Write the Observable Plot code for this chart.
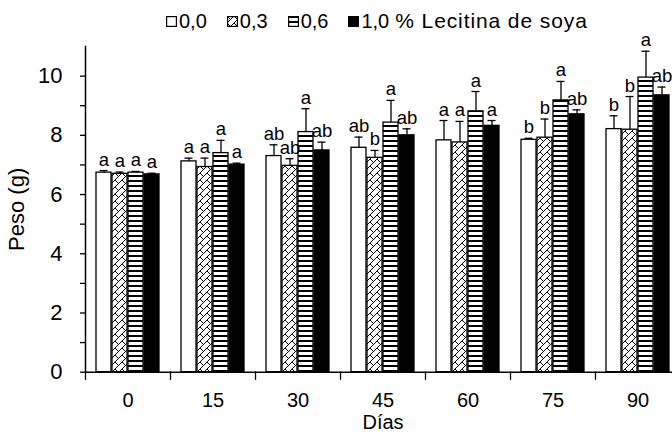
<!DOCTYPE html>
<html><head><meta charset="utf-8">
<script src="https://cdn.jsdelivr.net/npm/d3@7"></script>
<script src="https://cdn.jsdelivr.net/npm/@observablehq/plot@0.6"></script>
<style>
html,body{margin:0;padding:0;background:#fff;overflow:hidden;width:672px;height:432px;}
body{font-family:Arial,"Liberation Sans",sans-serif;color:#000;}
#legend{position:relative;height:40px;width:672px;}
#leg{position:absolute;left:166px;top:9px;display:flex;justify-content:flex-start;align-items:center;font-size:20px;line-height:24px;white-space:nowrap;}
.item{display:flex;align-items:center;margin-right:20px}
.sw{width:11px;height:11px;margin-right:2px;display:block}
#chart svg{max-width:none !important;}
</style></head><body>
<svg width="0" height="0" style="position:absolute">
<defs>
<pattern id="hatch" patternUnits="userSpaceOnUse" width="7" height="7">
<rect width="7" height="7" fill="white"/>
<path d="M0,7 L7,0 M-1,1 L1,-1 M6,8 L8,6" stroke="black" stroke-width="1"/>
<path d="M0,0 L3.5,3.5" stroke="black" stroke-width="1"/>
</pattern>
<pattern id="stripes" patternUnits="userSpaceOnUse" width="6" height="5">
<rect width="6" height="5" fill="white"/>
<rect width="6" height="2" fill="black"/>
</pattern>
</defs></svg>
<div id="legend"><div id="leg"></div></div>
<div id="chart"></div>
<script>
// Categories
const days = ["0", "15", "30", "45", "60", "75", "90"];
const treatments = ["0,0", "0,3", "0,6", "1,0"];
const legendSuffix = "% Lecitina de soya";
const yTicksMajor = [0, 2, 4, 6, 8, 10];
const yTicksMinor = [1, 3, 5, 7, 9];

// Mean weight (g) per treatment, by day
const peso00 = [6.74, 7.12, 7.30, 7.58, 7.83, 7.85, 8.21];
const peso03 = [6.70, 6.93, 6.97, 7.24, 7.76, 7.92, 8.19];
const peso06 = [6.74, 7.40, 8.11, 8.43, 8.81, 9.18, 9.95];
const peso10 = [6.68, 7.01, 7.49, 8.00, 8.32, 8.71, 9.35];

// Error (upper whisker length)
const err00 = [0.07, 0.11, 0.38, 0.36, 0.67, 0.05, 0.45];
const err03 = [0.06, 0.30, 0.24, 0.25, 0.71, 0.63, 1.12];
const err06 = [0.04, 0.43, 0.79, 0.75, 0.67, 0.64, 0.89];
const err10 = [0.04, 0.05, 0.28, 0.22, 0.18, 0.15, 0.28];

// Significance letters
const let00 = ["a", "a", "ab", "ab", "a", "b", "b"];
const let03 = ["a", "a", "ab", "b", "a", "b", "b"];
const let06 = ["a", "a", "a", "a", "a", "a", "a"];
const let10 = ["a", "a", "ab", "ab", "a", "ab", "ab"];

const fills = ["white", "url(#hatch)", "url(#stripes)", "black"];

const series = [
  {v: peso00, e: err00, l: let00},
  {v: peso03, e: err03, l: let03},
  {v: peso06, e: err06, l: let06},
  {v: peso10, e: err10, l: let10}
];
const rows = [];
days.forEach((d, i) => {
  treatments.forEach((t, j) => {
    const s = series[j];
    rows.push({day: d, t, v: s.v[i], top: s.v[i] + s.e[i], letter: s.l[i]});
  });
});

// Legend
const leg = document.getElementById("leg");
treatments.forEach((t, j) => {
  const it = document.createElement("div");
  it.className = "item";
  if (j === treatments.length - 1) it.style.marginRight = "0";
  it.innerHTML = `<svg class="sw" viewBox="0 0 11 11"><rect x="0.6" y="0.6" width="9.8" height="9.8" fill="${fills[j]}" stroke="black" stroke-width="1.2"/></svg><span>${t}</span>`;
  leg.appendChild(it);
});
const suf = document.createElement("span");
suf.style.marginLeft = "6px";
suf.style.fontSize = "21px";
suf.style.letterSpacing = "0.9px";
suf.textContent = legendSuffix;
leg.appendChild(suf);

const W = 682, H = 392, mL = 82, mR = 0, mT = 6, mB = 60.3;
const font = "Arial, 'Liberation Sans', sans-serif";

const chart = Plot.plot({
  width: W, height: H,
  marginLeft: mL, marginRight: mR, marginTop: mT, marginBottom: mB,
  style: {fontFamily: font, fontSize: "20px", maxWidth: "none", overflow: "visible", background: "white", color: "black"},
  fx: {domain: days, padding: 0},
  x: {domain: treatments, paddingInner: 0.08, paddingOuter: 0.67, axis: null},
  y: {domain: [0, 11]},
  color: {domain: treatments, range: fills},
  marks: [
    Plot.barY(rows, {fx: "day", x: "t", y: "v", fill: "t", stroke: "black", strokeWidth: 1.3}),
    Plot.ruleX(rows, {fx: "day", x: "t", y1: "v", y2: "top", stroke: "black", strokeWidth: 1.3}),
    Plot.tickY(rows, {fx: "day", x: "t", y: "top", stroke: "black", strokeWidth: 1.3, insetLeft: 3.5, insetRight: 3.5}),
    Plot.text(rows, {fx: "day", x: "t", y: "top", text: "letter", lineAnchor: "bottom", dy: -5, fontSize: 18.5, fill: "black"}),
    Plot.ruleY([0], {stroke: "black", strokeWidth: 1.5}),
    Plot.frame({anchor: "left", insetTop: H - mT - mB, insetBottom: -7, stroke: "black", strokeWidth: 1.3}),
    Plot.frame({anchor: "left", facet: "super", stroke: "black", strokeWidth: 1.5}),
    Plot.axisY({ticks: yTicksMajor, tickSize: 5, tickPadding: 18, strokeWidth: 1.3,
      label: "Peso (g)", labelAnchor: "center", labelOffset: 77, labelArrow: "none", fontSize: 22}),
    Plot.axisY({ticks: yTicksMinor, tickSize: 5, tickFormat: () => "", strokeWidth: 1.3, label: null}),
    Plot.axisFx({anchor: "bottom", tickSize: 0, tickPadding: 21, fontSize: 20, label: "Días", labelAnchor: "center", labelOffset: 57, labelArrow: "none"})
  ]
});
document.getElementById("chart").appendChild(chart);
</script>
</body></html>
